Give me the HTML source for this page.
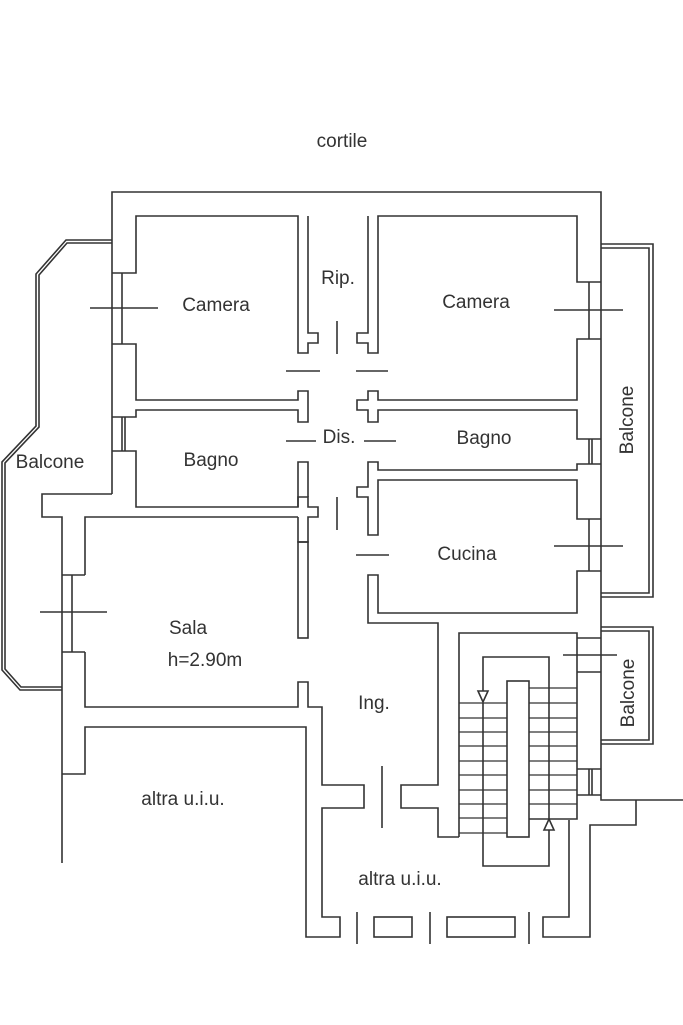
<!DOCTYPE html>
<html><head><meta charset="utf-8"><style>
html,body{margin:0;padding:0;background:#fff}
svg{display:block}
text{font-family:"Liberation Sans",sans-serif;font-size:19px;fill:#333;text-anchor:middle}
</style></head><body>
<svg width="683" height="1025" viewBox="0 0 683 1025" xmlns="http://www.w3.org/2000/svg">
<g fill="none" stroke="#333" stroke-width="1.6">
<polyline points="112,494 112,192 601,192 601,800 683,800"/>
<polyline points="112,494 42,494 42,517 62,517 62,863"/>
<line x1="72" y1="575" x2="72" y2="652"/>
<polyline points="85,575 85,517 298,517"/>
<polyline points="62,575 85,575"/><polyline points="62,652 85,652"/>
<polyline points="85,652 85,707 298,707 298,682 308,682 308,707 322,707 322,785 364,785 364,808 322,808 322,917 340,917 340,937 306,937 306,727 85,727 85,774 62,774"/>
<polyline points="112,273 136,273 136,216 298,216 298,353 308,353 308,343 318,343 318,333 308,333 308,216"/>
<polyline points="122,273 122,344"/>
<polyline points="112,344 136,344 136,400 298,400 298,391 308,391 308,422 298,422 298,410 136,410 136,417 112,417"/>
<polyline points="112,451 136,451 136,507 298,507 298,497 308,497 308,507 318,507 318,517 308,517 308,542 298,542 298,517"/>
<line x1="122" y1="417" x2="122" y2="451"/><line x1="125" y1="417" x2="125" y2="451"/>
<polyline points="298,507 298,462 308,462 308,497"/>
<rect x="298" y="542" width="10" height="96"/>
<line x1="90" y1="308" x2="158" y2="308"/>
<line x1="40" y1="612" x2="107" y2="612"/>
<line x1="286" y1="371" x2="320" y2="371"/>
<line x1="286" y1="441" x2="316" y2="441"/>
<line x1="337" y1="321" x2="337" y2="354"/>
<line x1="337" y1="497" x2="337" y2="530"/>
<line x1="356" y1="371" x2="388" y2="371"/>
<line x1="364" y1="441" x2="396" y2="441"/>
<line x1="356" y1="555" x2="389" y2="555"/>
<polyline points="368,216 368,333 357,333 357,343 368,343 368,353 378,353 378,216 577,216 577,282 601,282"/>
<line x1="589" y1="282" x2="589" y2="339"/>
<polyline points="601,339 577,339 577,400 378,400 378,391 368,391 368,400 357,400 357,410 368,410 368,422 378,422 378,410 577,410 577,439 601,439"/>
<line x1="589" y1="439" x2="589" y2="464"/><line x1="592" y1="439" x2="592" y2="464"/>
<polyline points="601,464 577,464 577,470 378,470 378,462 368,462 368,487 357,487 357,497 368,497 368,535 378,535 378,480 577,480 577,519 601,519"/>
<line x1="589" y1="519" x2="589" y2="571"/>
<polyline points="601,571 577,571 577,613 378,613 378,575 368,575 368,623 438,623 438,785 401,785 401,808 438,808 438,837 459,837"/>
<line x1="554" y1="310" x2="623" y2="310"/>
<line x1="554" y1="546" x2="623" y2="546"/>
<line x1="382" y1="766" x2="382" y2="828"/>
<polyline points="601,244 653,244 653,597 601,597"/>
<polyline points="601,248 649,248 649,593 601,593"/>
<polyline points="601,627 653,627 653,744 601,744"/>
<polyline points="601,631 649,631 649,740 601,740"/>
<polyline points="112,240 66,240 36,274 36,426 2,462 2,670 20,690 62,690"/>
<polyline points="112,243 67,243 39,275 39,427 5,463 5,669 21,687 62,687"/>
<polyline points="459,837 459,633 577,633 577,819 529,819"/>
<polyline points="577,638 601,638"/><polyline points="577,672 601,672"/>
<line x1="563" y1="655" x2="617" y2="655"/>
<polyline points="577,769 601,769"/><polyline points="577,795 601,795"/>
<line x1="589" y1="769" x2="589" y2="795"/><line x1="592" y1="769" x2="592" y2="795"/>
<rect x="507" y="681" width="22" height="156"/>
<g stroke-width="1.3">
<line x1="459" y1="703" x2="507" y2="703"/><line x1="459" y1="718" x2="507" y2="718"/><line x1="459" y1="732" x2="507" y2="732"/><line x1="459" y1="746" x2="507" y2="746"/><line x1="459" y1="761" x2="507" y2="761"/><line x1="459" y1="775" x2="507" y2="775"/><line x1="459" y1="790" x2="507" y2="790"/><line x1="459" y1="804" x2="507" y2="804"/><line x1="459" y1="818" x2="507" y2="818"/><line x1="459" y1="833" x2="507" y2="833"/>
<line x1="529" y1="688" x2="577" y2="688"/><line x1="529" y1="703" x2="577" y2="703"/><line x1="529" y1="718" x2="577" y2="718"/><line x1="529" y1="732" x2="577" y2="732"/><line x1="529" y1="746" x2="577" y2="746"/><line x1="529" y1="761" x2="577" y2="761"/><line x1="529" y1="775" x2="577" y2="775"/><line x1="529" y1="790" x2="577" y2="790"/><line x1="529" y1="804" x2="577" y2="804"/>
</g>
<polyline points="483,691 483,657 549,657 549,830"/>
<polyline points="483,703 483,866 549,866 549,830"/>
<polygon points="478,691 488,691 483,702" fill="#fff"/>
<polygon points="544,830 554,830 549,819" fill="#fff"/>
<polyline points="569,820 569,917 543,917 543,937 590,937 590,825 636,825 636,800"/>
<line x1="357" y1="912" x2="357" y2="944"/>
<rect x="374" y="917" width="38" height="20"/>
<line x1="430" y1="912" x2="430" y2="944"/>
<rect x="447" y="917" width="68" height="20"/>
<line x1="529" y1="912" x2="529" y2="944"/>
</g>
<text x="342" y="147">cortile</text>
<text x="216" y="311">Camera</text>
<text x="338" y="284">Rip.</text>
<text x="476" y="308">Camera</text>
<text x="339" y="443">Dis.</text>
<text x="211" y="466">Bagno</text>
<text x="484" y="444">Bagno</text>
<text x="50" y="468">Balcone</text>
<text x="467" y="560">Cucina</text>
<text x="188" y="634">Sala</text>
<text x="205" y="666">h=2.90m</text>
<text x="374" y="709">Ing.</text>
<text x="183" y="805">altra u.i.u.</text>
<text x="400" y="885">altra u.i.u.</text>
<text transform="translate(633,420) rotate(-90)">Balcone</text>
<text transform="translate(634,693) rotate(-90)">Balcone</text>
</svg>
</body></html>
